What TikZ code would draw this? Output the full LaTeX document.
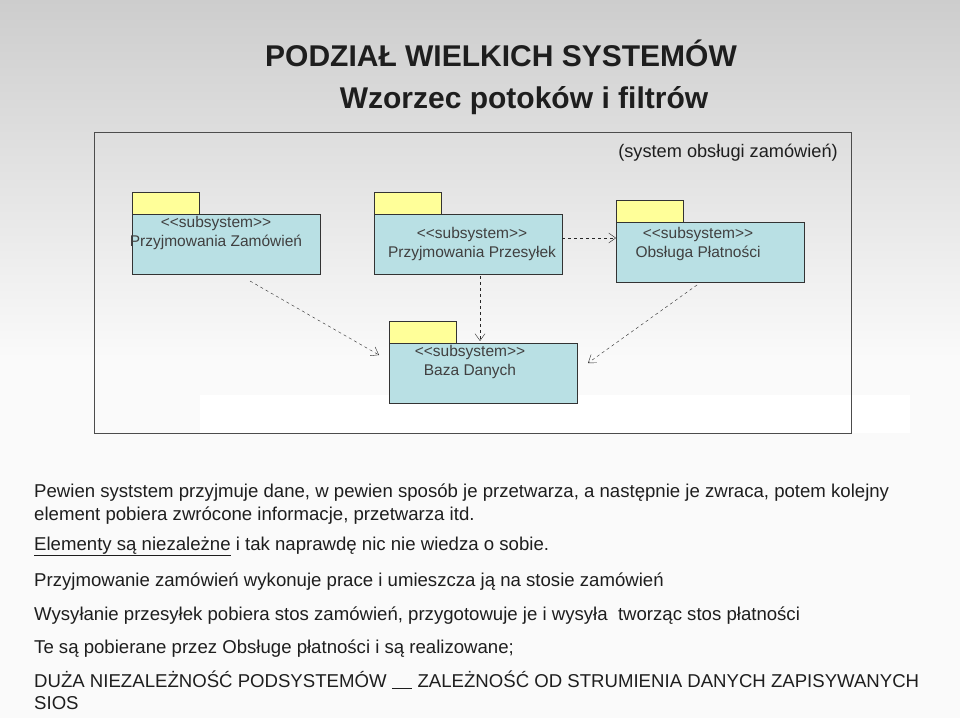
\documentclass[tikz,border=0pt]{standalone}
\usepackage{fontspec}
\setmainfont{Liberation Sans}
\usetikzlibrary{arrows.meta}
\definecolor{pkgbody}{RGB}{185,224,228}
\definecolor{pkgtab}{RGB}{255,255,153}
\definecolor{bgmid}{RGB}{250,250,250}
\definecolor{bgedge}{RGB}{205,205,205}
\definecolor{txt}{RGB}{30,30,30}

\newcommand{\stereo}{<\kern0pt<subsystem>\kern0pt>}

\tikzset{
  tabbox/.style={draw=black!80,fill=pkgtab,minimum width=67pt,minimum height=22pt,inner sep=0pt},
  pkgbox/.style={draw=black!80,fill=pkgbody,minimum width=188pt,minimum height=60pt,inner sep=0pt},
  pkgtext/.style={font=\fontsize{15.5}{19}\selectfont,text=black!75,align=center,inner sep=0pt},
  dep/.style={draw=black!85,dashed,-{Straight Barb[length=7pt,width=10pt]}},
  para/.style={anchor=base west,font=\fontsize{18.6}{21}\selectfont,text=txt,inner sep=0pt}
}

\begin{document}
\begin{tikzpicture}[x=1pt,y=-1pt]
\useasboundingbox (0,0) rectangle (960,717);
\shade[top color=bgedge,bottom color=bgmid,middle color=bgmid] (0,0) rectangle (960,717);
\fill[white] (200,395) rectangle (910,433);
\draw[black!70,thick] (94,132) rectangle (851,433);

% titles
\node[font=\bfseries\fontsize{30}{34}\selectfont,text=txt] (title) at (501,53) {PODZIAŁ WIELKICH SYSTEMÓW};
\node[font=\bfseries\fontsize{30}{34}\selectfont,text=txt] (subtitle) at (524,101) {Wzorzec potoków i filtrów};
\node[font=\fontsize{18.2}{21}\selectfont,text=txt] (note) at (728,153) {(system obsługi zamówień)};

% packages
\node[tabbox,anchor=north west] (zamtab) at (132,192) {};
\node[pkgbox,anchor=north west] (zam) at (132,214) {};
\node[pkgtext,anchor=north] at (216,216) {\stereo\\Przyjmowania Zamówień};

\node[tabbox,anchor=north west] (przestab) at (374,192) {};
\node[pkgbox,anchor=north west] (prz) at (374,214) {};
\node[pkgtext,anchor=north] at (472,227) {\stereo\\Przyjmowania Przesyłek};

\node[tabbox,anchor=north west] (platab) at (616,200) {};
\node[pkgbox,anchor=north west] (pla) at (616,222) {};
\node[pkgtext,anchor=north] at (698,227) {\stereo\\Obsługa Płatności};

\node[tabbox,anchor=north west] (bazatab) at (389,321) {};
\node[pkgbox,anchor=north west] (baza) at (389,343) {};
\node[pkgtext,anchor=north] at (470,345) {\stereo\\Baza Danych};

% dependencies
\coordinate (zamend) at (250,281);
\coordinate (bazain1) at (379,355);
\coordinate (przend) at (480,276);
\coordinate (bazain2) at (480,341);
\coordinate (plaend) at (697,285);
\coordinate (bazain3) at (588,363);
\draw[dep] (zamend) -- (bazain1);
\draw[dep] (przend) -- (bazain2);
\draw[dep] (plaend) -- (bazain3);
\draw[dep] (prz.east |- 0,238) -- (pla.west |- 0,238);

% text
\node[para] (l1) at (34,497) {Pewien syststem przyjmuje dane, w pewien sposób je przetwarza, a następnie je zwraca, potem kolejny};
\node[para] (l2) at (34,520) {element pobiera zwrócone informacje, przetwarza itd.};
\node[para] (l3) at (34,550) {\underline{Elementy są niezależne} i tak naprawdę nic nie wiedza o sobie.};
\node[para] (l4) at (34,586) {Przyjmowanie zamówień wykonuje prace i umieszcza ją na stosie zamówień};
\node[para] (l5) at (34,620) {Wysyłanie przesyłek pobiera stos zamówień, przygotowuje je i wysyła\ \ tworząc stos płatności};
\node[para] (l6) at (34,653) {Te są pobierane przez Obsługe płatności i są realizowane;};
\node[para] (l7) at (34,687) {DUŻA NIEZALEŻNOŚĆ PODSYSTEMÓW \underline{\ \ \ \ } ZALEŻNOŚĆ OD STRUMIENIA DANYCH ZAPISYWANYCH};
\node[para] (l8) at (34,709) {SIOS};
\end{tikzpicture}
\end{document}
